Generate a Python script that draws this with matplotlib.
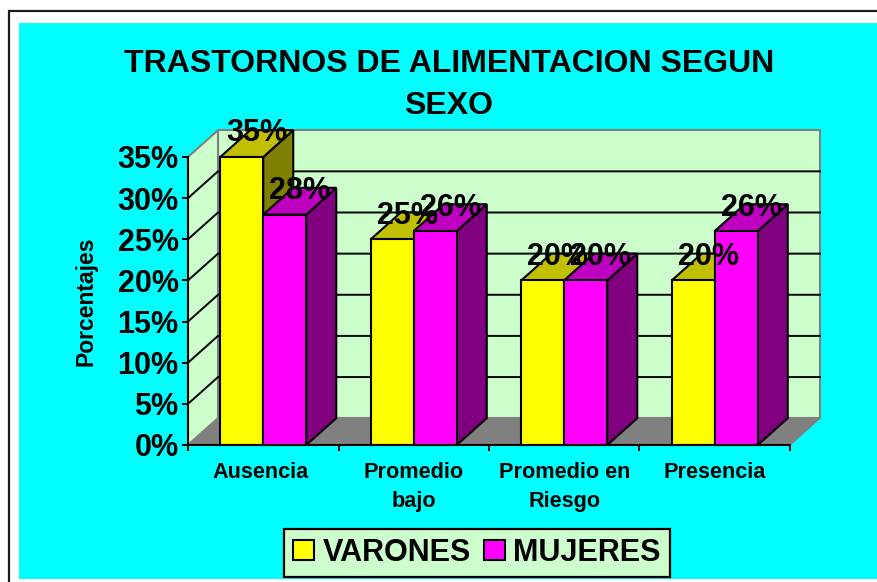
import matplotlib
matplotlib.use("Agg")
import matplotlib.pyplot as plt
from matplotlib.patches import Polygon, Rectangle, Patch

W = 877
H = 582

categories = ["Ausencia", "Promedio\nbajo", "Promedio en\nRiesgo", "Presencia"]
varones = [35, 25, 20, 20]
mujeres = [28, 26, 20, 26]
y_ticks = [0, 5, 10, 15, 20, 25, 30, 35]

plt.rcParams['font.family'] = ['Liberation Sans', 'DejaVu Sans']
plt.rcParams['font.weight'] = 'bold'

# depth of the fake 3d box, in data units
DX = 30 / 150.5
DY = 26.8 / (288 / 35)
BAR_W = 43 / 150.5
GAP = (1 - 2 * BAR_W) / 2
LABEL_DROP = 0.4


def px_box(x0, y0, x1, y1):
    return [x0 / W, 1 - y1 / H, (x1 - x0) / W, (y1 - y0) / H]


def bar3d(ax, x, val, front, top, side):
    w = BAR_W
    ax.add_patch(Polygon([(x + w, 0), (x + w + DX, DY), (x + w + DX, val + DY), (x + w, val)],
                         fc=side, ec='black', lw=1.5, zorder=5, clip_on=False))
    ax.add_patch(Polygon([(x, val), (x + DX, val + DY), (x + w + DX, val + DY), (x + w, val)],
                         fc=top, ec='black', lw=1.5, zorder=5, clip_on=False))
    ax.add_patch(Rectangle((x, 0), w, val, fc=front, ec='black', lw=1.5, zorder=5, clip_on=False))


fig = plt.figure(figsize=(W / 100, H / 100), dpi=100, facecolor='white')
fig.add_artist(Rectangle((8.5 / W, 0 - 0.1), 2 * W / W, 1.1 - 11 / H, transform=fig.transFigure,
                         fc='white', ec='#1a1a1a', lw=1.6, zorder=-2))
fig.add_artist(Rectangle((19 / W, 1 - 579 / H), 1, (579 - 23) / H, transform=fig.transFigure,
                         fc='#00FFFF', ec='none', zorder=-1))

ax = fig.add_axes(px_box(188, 157, 790, 445))
ax.patch.set_alpha(0)
n = len(categories)
ax.set_xlim(0, n)
ax.set_ylim(0, 35)

# walls and floor
top = y_ticks[-1]
ax.add_patch(Polygon([(DX, DY), (n + DX, DY), (n + DX, top + DY), (DX, top + DY)],
                     fc='#CCFFCC', ec='#808080', lw=1.5, zorder=1, clip_on=False))
ax.add_patch(Polygon([(0, 0), (DX, DY), (DX, top + DY), (0, top)],
                     fc='#CCFFCC', ec='#808080', lw=1.5, zorder=1, clip_on=False))
ax.add_patch(Polygon([(0, 0), (n, 0), (n + DX, DY), (DX, DY)],
                     fc='#808080', ec='#808080', lw=1, zorder=2, clip_on=False))

# grid on both walls
for t in y_ticks[1:-1]:
    ax.plot([0, DX, n + DX], [t, t + DY, t + DY], color='black', lw=1.4, zorder=3, clip_on=False)

for i in range(n):
    x = i + GAP
    bar3d(ax, x, varones[i], '#FFFF00', '#C0C000', '#808000')
    bar3d(ax, x + BAR_W, mujeres[i], '#FF00FF', '#C000C0', '#800080')

for i in range(n):
    x = i + GAP
    ax.text(x + BAR_W / 2 + DX / 2, varones[i] + DY - LABEL_DROP, f"{varones[i]}%", ha='center', va='center',
            fontsize=22, zorder=8, clip_on=False)
    ax.text(x + 1.5 * BAR_W + DX / 2, mujeres[i] + DY - LABEL_DROP, f"{mujeres[i]}%", ha='center', va='center',
            fontsize=22, zorder=8, clip_on=False)

for s in ['top', 'right']:
    ax.spines[s].set_visible(False)
for s in ['left', 'bottom']:
    ax.spines[s].set_linewidth(1.5)
    ax.spines[s].set_zorder(6)

ax.set_yticks(y_ticks)
ax.set_yticklabels([f"{t}%" for t in y_ticks], fontsize=22)
ax.tick_params(axis='y', length=4.3, width=1.4, pad=2.5)
ax.set_xticks(range(n + 1))
ax.set_xticklabels([])
ax.tick_params(axis='x', length=4.3, width=1.4)
ax.set_xticks([0.48, 1.5, 2.5, 3.5], minor=True)
ax.set_xticklabels(categories, minor=True, fontsize=15.6, linespacing=1.55)
ax.tick_params(axis='x', which='minor', length=0, pad=12)

ax.set_ylabel("Porcentajes", fontsize=16.5, fontweight='bold', labelpad=0)
ax.yaxis.set_label_coords(-91 / 602, (445 - 301.5) / 288)

fig.text(449 / W, 1 - 85 / H, "TRASTORNOS DE ALIMENTACION SEGUN\nSEXO", ha='center', va='center',
         fontsize=23, fontweight='bold', linespacing=1.49)

handles = [Patch(fc='#FFFF00', ec='black', lw=1.5), Patch(fc='#FF00FF', ec='black', lw=1.5)]
leg = fig.legend(handles, ["VARONES", "MUJERES"], loc='center', ncol=2,
                 bbox_to_anchor=(477 / W, 1 - 553 / H), fontsize=22, frameon=True,
                 fancybox=False, framealpha=1, facecolor='#CCFFCC', edgecolor='black',
                 handlelength=0.68, handleheight=0.65, handletextpad=0.28, columnspacing=0.44,
                 borderpad=0.3, borderaxespad=0)
leg.get_frame().set_linewidth(1.6)

fig.savefig("out.png", dpi=100)
